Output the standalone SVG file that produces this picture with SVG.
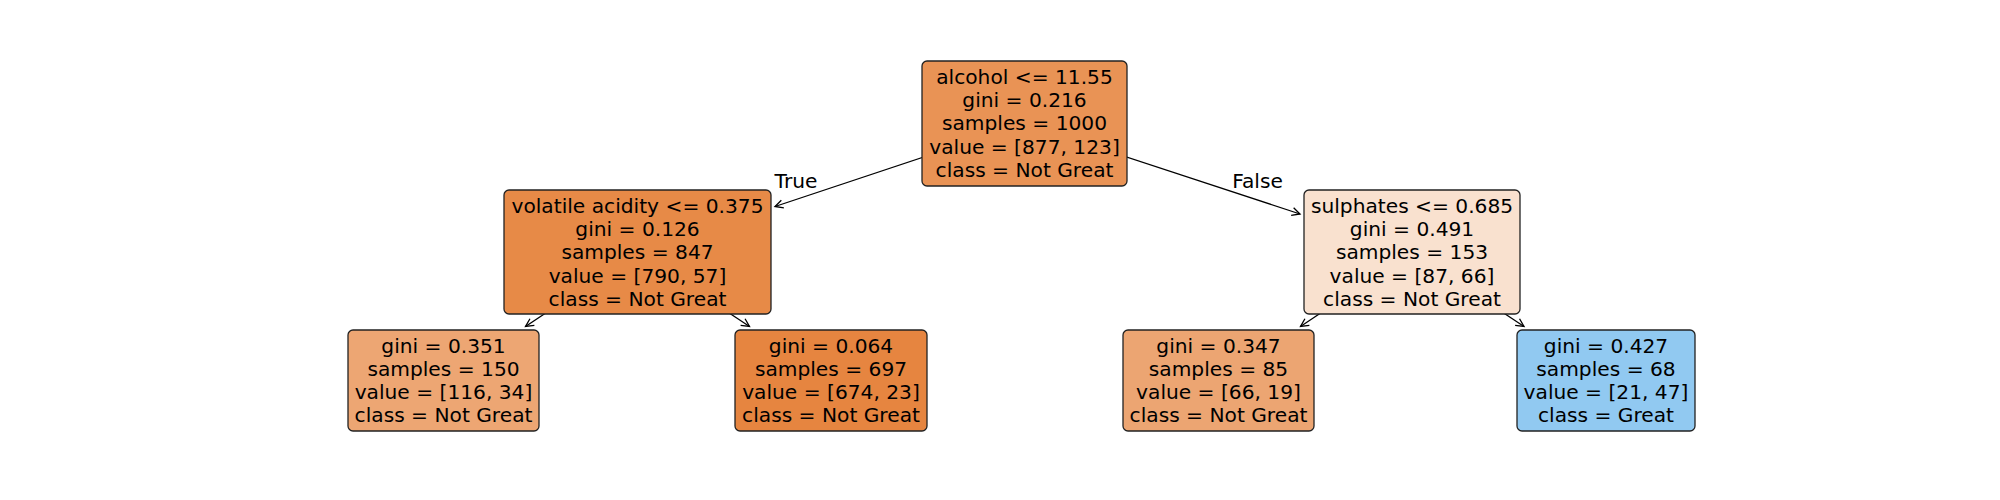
<svg xmlns="http://www.w3.org/2000/svg" width="2000" height="500" viewBox="0 0 2000 500">
<defs>
<marker id="arr" markerUnits="userSpaceOnUse" markerWidth="20" markerHeight="20" refX="0" refY="0" viewBox="-10 -10 20 20" orient="auto" overflow="visible">
<path d="M-8,-4 L0,0 L-8,4" fill="none" stroke="#000" stroke-width="1.3" stroke-linejoin="miter"/>
</marker>
</defs>
<style>
.box{stroke:#222;stroke-width:1.3}
text{font-family:"DejaVu Sans","Liberation Sans",sans-serif;font-size:20.2px;fill:#000;text-anchor:middle}
.edge{stroke:#000;stroke-width:1.3;fill:none;marker-end:url(#arr)}
</style>
<rect width="2000" height="500" fill="#fff"/>
<g id="connectors">
<path class="edge" d="M1024.5,123.5 L775,206.5"/>
<path class="edge" d="M1024.5,123.5 L1300,214"/>
<path class="edge" d="M637.5,252 L525.5,326.5"/>
<path class="edge" d="M637.5,252 L749.5,326.5"/>
<path class="edge" d="M1412,252 L1300.5,326.5"/>
<path class="edge" d="M1412,252 L1524,326.5"/>
<text x="796" y="187.5">True</text>
<text x="1257.5" y="187.5">False</text>
</g>
<g id="node0">
<rect class="box" x="922" y="61" width="205" height="125" rx="5" fill="#e99355"/>
<text x="1024.5" y="84">alcohol &lt;= 11.55</text>
<text x="1024.5" y="107.2">gini = 0.216</text>
<text x="1024.5" y="130.4">samples = 1000</text>
<text x="1024.5" y="153.6">value = [877, 123]</text>
<text x="1024.5" y="176.8">class = Not Great</text>
</g>
<g id="node1">
<rect class="box" x="504" y="190" width="267" height="124" rx="5" fill="#e78a47"/>
<text x="637.5" y="213">volatile acidity &lt;= 0.375</text>
<text x="637.5" y="236.2">gini = 0.126</text>
<text x="637.5" y="259.4">samples = 847</text>
<text x="637.5" y="282.6">value = [790, 57]</text>
<text x="637.5" y="305.8">class = Not Great</text>
</g>
<g id="node2">
<rect class="box" x="348" y="330" width="191" height="101" rx="5" fill="#eda673"/>
<text x="443.5" y="352.8">gini = 0.351</text>
<text x="443.5" y="376">samples = 150</text>
<text x="443.5" y="399.2">value = [116, 34]</text>
<text x="443.5" y="422.4">class = Not Great</text>
</g>
<g id="node3">
<rect class="box" x="735" y="330" width="192" height="101" rx="5" fill="#e68540"/>
<text x="831" y="352.8">gini = 0.064</text>
<text x="831" y="376">samples = 697</text>
<text x="831" y="399.2">value = [674, 23]</text>
<text x="831" y="422.4">class = Not Great</text>
</g>
<g id="node4">
<rect class="box" x="1304" y="190" width="216" height="124" rx="5" fill="#f9e1cf"/>
<text x="1412" y="213">sulphates &lt;= 0.685</text>
<text x="1412" y="236.2">gini = 0.491</text>
<text x="1412" y="259.4">samples = 153</text>
<text x="1412" y="282.6">value = [87, 66]</text>
<text x="1412" y="305.8">class = Not Great</text>
</g>
<g id="node5">
<rect class="box" x="1123" y="330" width="191" height="101" rx="5" fill="#eca572"/>
<text x="1218.5" y="352.8">gini = 0.347</text>
<text x="1218.5" y="376">samples = 85</text>
<text x="1218.5" y="399.2">value = [66, 19]</text>
<text x="1218.5" y="422.4">class = Not Great</text>
</g>
<g id="node6">
<rect class="box" x="1517" y="330" width="178" height="101" rx="5" fill="#91c9f1"/>
<text x="1606" y="352.8">gini = 0.427</text>
<text x="1606" y="376">samples = 68</text>
<text x="1606" y="399.2">value = [21, 47]</text>
<text x="1606" y="422.4">class = Great</text>
</g>
</svg>
